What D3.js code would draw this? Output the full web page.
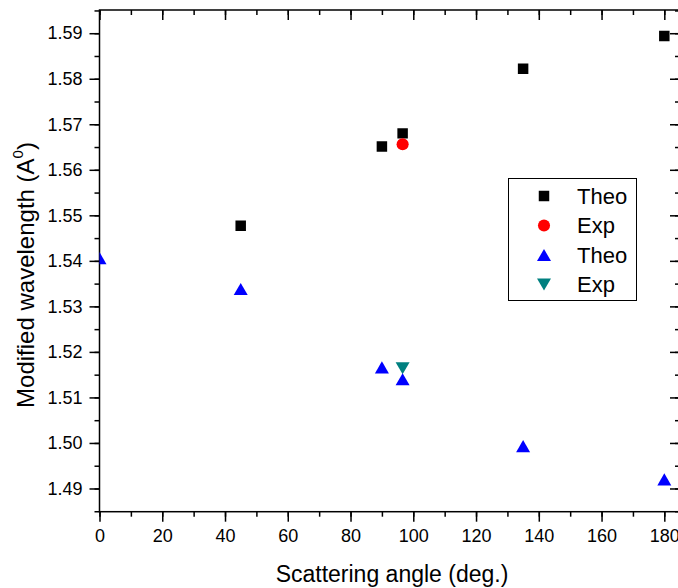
<!DOCTYPE html>
<html><head><meta charset="utf-8">
<script src="https://cdn.jsdelivr.net/npm/d3@7"></script>
<style>body{margin:0;background:#fff}svg{display:block}text{font-family:"Liberation Sans",Arial,sans-serif;fill:#000}</style>
</head><body>
<script>
const theoAX = [45, 90, 96.6, 135, 180];
const theoAY = [1.5477, 1.5651, 1.5680, 1.5822, 1.5894];
const expAX = [96.6];
const expAY = [1.5656];
const theoBX = [0, 45, 90, 96.6, 135, 180];
const theoBY = [1.5406, 1.5338, 1.5166, 1.5140, 1.4993, 1.4920];
const expBX = [96.6];
const expBY = [1.5164];
const xTicks = [0, 20, 40, 60, 80, 100, 120, 140, 160, 180];
const yTicks = [1.49, 1.50, 1.51, 1.52, 1.53, 1.54, 1.55, 1.56, 1.57, 1.58, 1.59];
const legendLabels = ["Theo", "Exp", "Theo", "Exp"];

const W = 678, H = 588;
const L = 99.5, R = 680, T = 10, B = 511.7;
const svg = d3.select("body").append("svg").attr("width", W).attr("height", H);
const x = d3.scaleLinear().domain([0, 185]).range([L, R]);
const y = d3.scaleLinear().domain([1.4849, 1.5951]).range([B, T]);

svg.append("defs").append("clipPath").attr("id", "clip")
  .append("rect").attr("x", L).attr("y", T).attr("width", R - L).attr("height", B - T);

const xMinor = d3.range(0, 186, 10);
const yMinor = d3.range(1.485, 1.5951, 0.005);

function styleAxis(g) {
  g.select(".domain").remove();
  g.selectAll("line").attr("stroke", "#000").attr("stroke-width", 1.5);
  g.selectAll("text").attr("font-size", 18);
}
// bottom
svg.append("g").attr("transform", `translate(0,${B})`)
  .call(d3.axisBottom(x).tickValues(xMinor).tickSize(5).tickFormat(""))
  .call(styleAxis);
svg.append("g").attr("transform", `translate(0,${B})`)
  .call(d3.axisBottom(x).tickValues(xTicks).tickSize(10).tickPadding(8).tickFormat(d3.format("d")))
  .call(styleAxis);
// top (inward)
svg.append("g").attr("transform", `translate(0,${T})`)
  .call(d3.axisBottom(x).tickValues(xMinor).tickSize(5).tickFormat(""))
  .call(styleAxis);
svg.append("g").attr("transform", `translate(0,${T})`)
  .call(d3.axisBottom(x).tickValues(xTicks).tickSize(10).tickFormat(""))
  .call(styleAxis);
// left
svg.append("g").attr("transform", `translate(${L},0)`)
  .call(d3.axisLeft(y).tickValues(yMinor).tickSize(5).tickFormat(""))
  .call(styleAxis);
svg.append("g").attr("transform", `translate(${L},0)`)
  .call(d3.axisLeft(y).tickValues(yTicks).tickSize(10).tickPadding(7).tickFormat(d3.format(".2f")))
  .call(styleAxis);
// right (inward)
svg.append("g").attr("transform", `translate(${R},0)`)
  .call(d3.axisLeft(y).tickValues(yMinor).tickSize(5).tickFormat(""))
  .call(styleAxis);
svg.append("g").attr("transform", `translate(${R},0)`)
  .call(d3.axisLeft(y).tickValues(yTicks).tickSize(10).tickFormat(""))
  .call(styleAxis);

svg.append("rect").attr("x", L).attr("y", T).attr("width", R - L).attr("height", B - T)
  .attr("fill", "none").attr("stroke", "#000").attr("stroke-width", 1.5);

const triUp = { draw(c, s) { const w = Math.sqrt(s), h = w * 0.86; c.moveTo(0, -h / 2); c.lineTo(w / 2, h / 2); c.lineTo(-w / 2, h / 2); c.closePath(); } };
const triDown = { draw(c, s) { const w = Math.sqrt(s), h = w * 0.86; c.moveTo(0, h / 2); c.lineTo(w / 2, -h / 2); c.lineTo(-w / 2, -h / 2); c.closePath(); } };

const series = [
  { xs: theoAX, ys: theoAY, type: d3.symbolSquare, size: 110, color: "#000000" },
  { xs: expAX, ys: expAY, type: d3.symbolCircle, size: 115, color: "#ff0000" },
  { xs: expBX, ys: expBY, type: triDown, size: 196, color: "#008080" },
  { xs: theoBX, ys: theoBY, type: triUp, size: 196, color: "#0000ff" }
];
const plot = svg.append("g").attr("clip-path", "url(#clip)");
series.forEach(s => {
  const pts = s.xs.map((v, i) => [v, s.ys[i]]);
  plot.selectAll(null).data(pts).enter().append("path")
    .attr("d", d3.symbol().type(s.type).size(s.size))
    .attr("transform", d => `translate(${x(d[0])},${y(d[1])})`)
    .attr("fill", s.color);
});

// legend
const lg = svg.append("g");
lg.append("rect").attr("x", 508.5).attr("y", 178.5).attr("width", 128).attr("height", 122)
  .attr("fill", "#fff").attr("stroke", "#000").attr("stroke-width", 1);
const legendSeries = [series[0], series[1], series[3], series[2]];
const rowY = [196, 225.5, 255, 284.5];
legendSeries.forEach((s, i) => {
  lg.append("path").attr("d", d3.symbol().type(s.type).size(s.size))
    .attr("transform", `translate(544,${rowY[i]})`).attr("fill", s.color);
  lg.append("text").attr("x", 577).attr("y", rowY[i] + 7.5).attr("font-size", 22).text(legendLabels[i]);
});

// titles
svg.append("text").attr("x", 392).attr("y", 582).attr("text-anchor", "middle").attr("font-size", 23)
  .text("Scattering angle (deg.)");
const yt = svg.append("text").attr("transform", "translate(34,275) rotate(-90)")
  .attr("text-anchor", "middle").attr("font-size", 24);
yt.append("tspan").text("Modified wavelength (A");
yt.append("tspan").attr("font-size", 15).attr("dy", -11).text("0");
yt.append("tspan").attr("dy", 11).text(")");
</script>
</body></html>
